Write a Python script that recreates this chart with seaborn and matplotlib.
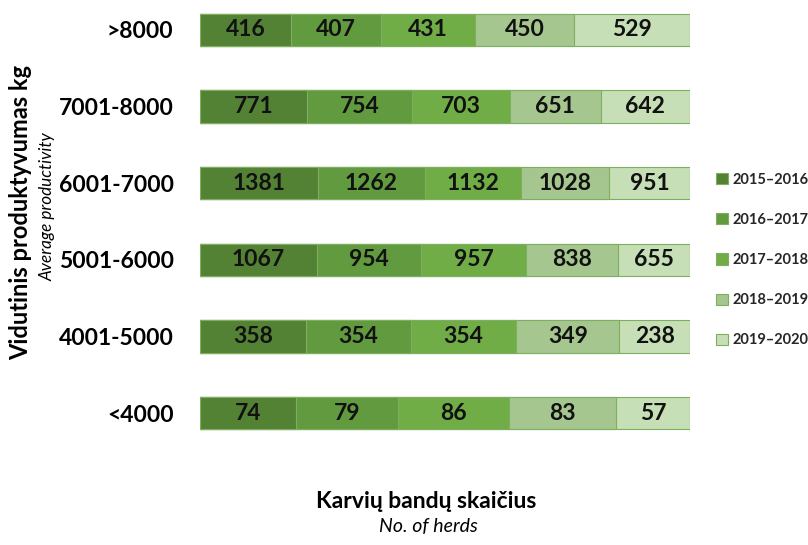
import numpy as np
import pandas as pd
import matplotlib
matplotlib.use('Agg')
import matplotlib.pyplot as plt
from matplotlib.patches import Patch
import seaborn as sns

# data
groups = ['>8000', '7001-8000', '6001-7000', '5001-6000', '4001-5000', '<4000']
seasons = ['2015–2016', '2016–2017', '2017–2018', '2018–2019', '2019–2020']
herds = {
    '2015–2016': [416, 771, 1381, 1067, 358, 74],
    '2016–2017': [407, 754, 1262, 954, 354, 79],
    '2017–2018': [431, 703, 1132, 957, 354, 86],
    '2018–2019': [450, 651, 1028, 838, 349, 83],
    '2019–2020': [529, 642, 951, 655, 238, 57],
}
colors = ['#548235', '#629a3f', '#70ad47', '#a5c78f', '#c6dfb6']

sns.set_theme(style='white')
plt.rcParams['font.family'] = ['Lato', 'DejaVu Sans']

df = pd.DataFrame(herds, index=groups)
share = df.div(df.sum(axis=1), axis=0)
cum = share.cumsum(axis=1)

fig = plt.figure(figsize=(8.08, 5.45), dpi=100)
ax = fig.add_axes([200 / 808, 1 - 460 / 545, 490 / 808, 460 / 545])

# stacked bars: draw cumulative totals from the last season back to the first
for season, col in zip(seasons[::-1], colors[::-1]):
    sns.barplot(x=cum[season].values, y=groups, orient='h', color=col,
                saturation=1, width=0.42, edgecolor='#7fae5e', linewidth=0.8, ax=ax)

# value labels in the middle of each segment
left = cum.shift(1, axis=1).fillna(0)
for i, g in enumerate(groups):
    for season in seasons:
        xc = left.loc[g, season] + share.loc[g, season] / 2
        ax.text(xc, i, str(df.loc[g, season]), ha='center', va='center',
                fontsize=16.5, fontweight='bold', color='#111111')

ax.set_xlim(0, 1)
ax.set_ylim(5.61, -0.39)
ax.set_xticks([])
ax.set_xlabel('')
ax.set_ylabel('')
ax.tick_params(axis='y', length=0, pad=19)
for lab in ax.get_yticklabels():
    lab.set_fontsize(16.5)
    lab.set_fontweight('bold')
    lab.set_color('black')
for sp in ax.spines.values():
    sp.set_visible(False)

fig.text(21 / 808, 1 - 213 / 545, 'Vidutinis produktyvumas kg', rotation=90,
         ha='center', va='center', fontsize=17, fontweight='bold', color='black')
fig.text(48 / 808, 1 - 207 / 545, 'Average productivity', rotation=90,
         ha='center', va='center', fontsize=12.3, style='italic', color='black')
fig.text(426 / 808, 1 - 501 / 545, 'Karvių bandų skaičius',
         ha='center', va='center', fontsize=16.5, fontweight='bold', color='black')
fig.text(428 / 808, 1 - 527 / 545, 'No. of herds',
         ha='center', va='center', fontsize=14, style='italic', color='black')

handles = [Patch(facecolor=c, edgecolor='#7fae5e', linewidth=0.8) for c in colors]
fig.legend(handles, seasons, loc='center left', bbox_to_anchor=(703 / 808, 1 - 260 / 545),
           frameon=False, prop={'weight': 'bold', 'size': 10.5}, handlelength=0.8,
           handleheight=0.8, handletextpad=0.3, labelspacing=1.8)

fig.savefig('out.png', dpi=100)
